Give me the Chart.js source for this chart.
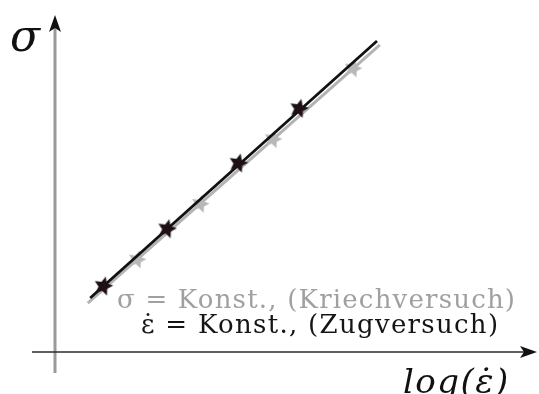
<!DOCTYPE html>
<html lang="de">
<head>
    <meta charset="UTF-8">
    <title>Spannung über Dehnrate</title>
    <script src="https://cdn.jsdelivr.net/npm/chart.js"></script>
    <style>
        body { margin: 0; background: #fff; }
        .wrap { position: relative; width: 539px; height: 394px; overflow: hidden; }
        .lbl { position: absolute; white-space: nowrap; font-family: "DejaVu Serif", "Liberation Serif", serif; line-height: 1; }
        #sigma { left: 10px; top: 14px; font-size: 44px; font-style: italic; color: #111; }
        #xlab { left: 403px; top: 364px; font-size: 34px; font-style: italic; letter-spacing: 1.5px; color: #111; }
        #leg1 { left: 117px; top: 286px; font-size: 26px; letter-spacing: 1.2px; color: #a0a0a0; }
        #leg2 { left: 141px; top: 311px; font-size: 26px; letter-spacing: 1.3px; color: #151515; }
    </style>
</head>
<body>
<div class="wrap">
    <canvas id="chart" width="539" height="394"></canvas>
    <div class="lbl" id="sigma">σ</div>
    <div class="lbl" id="xlab">log(ε̇)</div>
    <div class="lbl" id="leg1">σ = Konst., (Kriechversuch)</div>
    <div class="lbl" id="leg2">ε̇ = Konst., (Zugversuch)</div>
</div>
<script>
    // log(strain rate) on x, stress on y, both in arbitrary units 0..10
    const zugX = [1.00, 2.32, 3.80, 5.06];
    const zugY = [1.95, 3.65, 5.60, 7.22];
    const kriechX = [1.70, 3.01, 4.52, 6.18];
    const kriechY = [2.74, 4.39, 6.31, 8.41];
    // fitted lines through each series
    const zugFitX = [0.73, 6.68];
    const zugFitY = [1.60, 9.23];
    const kriechFitX = [0.68, 6.74];
    const kriechFitY = [1.45, 9.11];

    const pts = (xs, ys) => xs.map((x, i) => ({ x, y: ys[i] }));

    // filled five-pointed star used as point style
    function makeStar(size, fill) {
        const c = document.createElement('canvas');
        c.width = size; c.height = size;
        const g = c.getContext('2d');
        const r = size / 2, ri = r * 0.45;
        g.translate(r, r);
        g.rotate(0.25);
        g.beginPath();
        for (let i = 0; i < 10; i++) {
            const a = -Math.PI / 2 + i * Math.PI / 5;
            const rr = i % 2 ? ri : r - 0.5;
            g.lineTo(Math.cos(a) * rr, Math.sin(a) * rr);
        }
        g.closePath();
        g.fillStyle = fill;
        g.fill();
        return c;
    }

    // arrowed axes crossing at (0, 0)
    const arrowAxes = {
        id: 'arrowAxes',
        beforeDatasetsDraw(chart) {
            const ctx = chart.ctx;
            const x0 = chart.scales.x.getPixelForValue(0);
            const y0 = chart.scales.y.getPixelForValue(0);
            const xEnd = chart.scales.x.getPixelForValue(10);
            const yEnd = chart.scales.y.getPixelForValue(10);
            ctx.save();
            ctx.strokeStyle = '#9a9a9a';
            ctx.lineWidth = 3;
            ctx.beginPath();
            ctx.moveTo(x0, y0 + 21);
            ctx.lineTo(x0, yEnd + 10);
            ctx.stroke();
            ctx.strokeStyle = '#2a2a2a';
            ctx.lineWidth = 1.5;
            ctx.beginPath();
            ctx.moveTo(x0 - 23, y0);
            ctx.lineTo(xEnd - 8, y0);
            ctx.stroke();
            ctx.fillStyle = '#111';
            ctx.beginPath();
            ctx.moveTo(x0, yEnd);
            ctx.lineTo(x0 + 6, yEnd + 17);
            ctx.lineTo(x0, yEnd + 13);
            ctx.lineTo(x0 - 6, yEnd + 17);
            ctx.closePath();
            ctx.fill();
            ctx.beginPath();
            ctx.moveTo(xEnd, y0);
            ctx.lineTo(xEnd - 17, y0 - 6);
            ctx.lineTo(xEnd - 13, y0);
            ctx.lineTo(xEnd - 17, y0 + 6);
            ctx.closePath();
            ctx.fill();
            ctx.restore();
        }
    };

    new Chart(document.getElementById('chart'), {
        type: 'scatter',
        data: {
            datasets: [
                {
                    data: pts(zugX, zugY), order: 1, clip: false,
                    pointStyle: makeStar(21, '#1e1014'), pointRadius: 10, showLine: false
                },
                {
                    data: pts(zugFitX, zugFitY), order: 2, showLine: true, clip: false,
                    borderColor: '#111', borderWidth: 2.8, pointRadius: 0
                },
                {
                    data: pts(kriechX, kriechY), order: 3, clip: false,
                    pointStyle: makeStar(20, '#b8b8b8'), pointRadius: 10, showLine: false
                },
                {
                    data: pts(kriechFitX, kriechFitY), order: 4, showLine: true, clip: false,
                    borderColor: '#b3b3b3', borderWidth: 3, pointRadius: 0
                }
            ]
        },
        options: {
            responsive: false,
            animation: false,
            devicePixelRatio: 1,
            layout: { autoPadding: false, padding: { left: 55, right: 2, top: 15, bottom: 42 } },
            scales: {
                x: { type: 'linear', min: 0, max: 10, display: false },
                y: { type: 'linear', min: 0, max: 10, display: false }
            },
            plugins: { legend: { display: false }, tooltip: { enabled: false } },
            elements: { point: { hoverRadius: 0 } }
        },
        plugins: [arrowAxes]
    });
</script>
</body>
</html>
